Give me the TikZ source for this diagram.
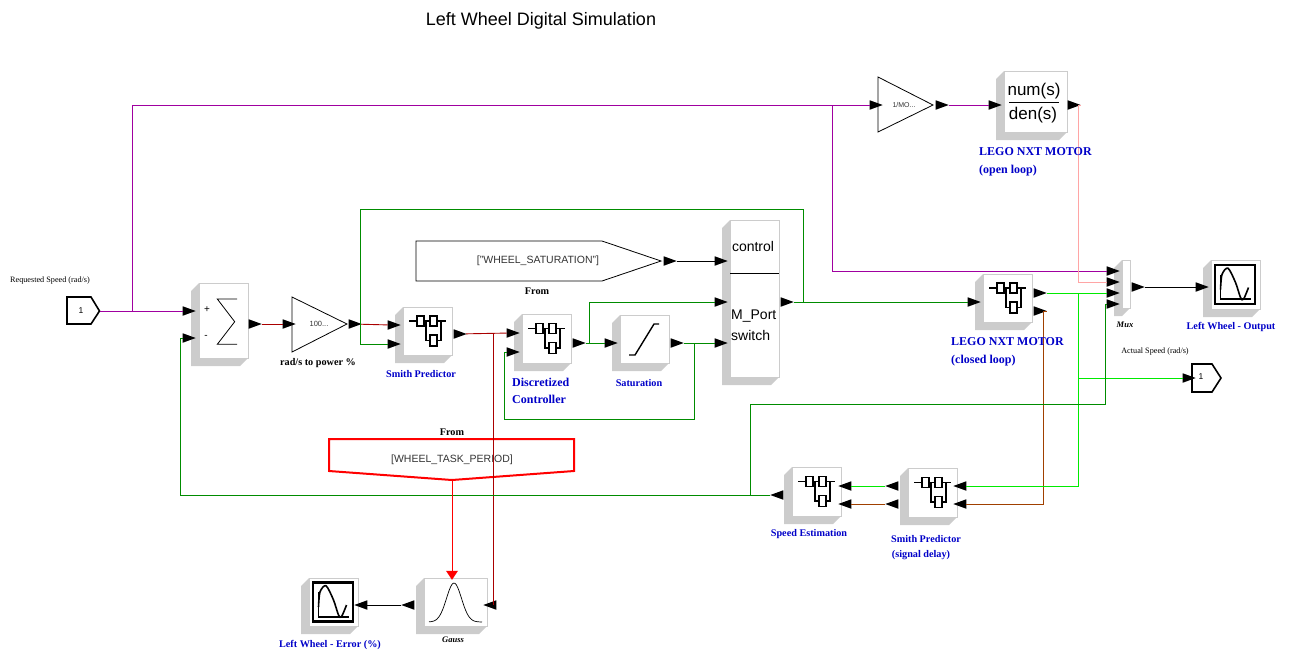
\documentclass[tikz,border=0pt]{standalone}
\usepackage{fontspec}
\setmainfont{Liberation Sans}
\newfontfamily\serifface{Liberation Serif}
\usetikzlibrary{shapes.geometric}

\definecolor{blockgray}{RGB}{204,204,204}
\definecolor{wirepurple}{RGB}{160,0,160}
\definecolor{wirered}{RGB}{170,0,0}
\definecolor{wiregreen}{RGB}{0,140,0}
\definecolor{wirelime}{RGB}{0,235,0}
\definecolor{wirepink}{RGB}{255,165,165}
\definecolor{wirebrown}{RGB}{160,64,0}
\definecolor{labelblue}{RGB}{0,0,200}

\tikzset{
    blockface/.style={draw=blockgray, fill=white, line width=0.8pt, inner sep=0pt, outer sep=0pt},
    portr/.style={isosceles triangle, isosceles triangle stretches, fill=black, inner sep=0pt, outer sep=0pt,
        minimum width=9.5pt, minimum height=13pt},
    portl/.style={portr, shape border rotate=180},
    portd/.style={portr, shape border rotate=-90, fill=red, minimum width=12pt, minimum height=9pt},
    wire/.style={line width=0.9pt},
    limewire/.style={line width=0.95pt, wirelime},
    bluelbl/.style={font=\serifface\bfseries\fontsize{10.2}{12}\selectfont, text=labelblue, inner sep=0pt},
    bluebig/.style={font=\serifface\bfseries\fontsize{12}{14}\selectfont, text=labelblue, inner sep=0pt, anchor=west},
    blacklbl/.style={font=\serifface\bfseries\fontsize{10.2}{12}\selectfont, inner sep=0pt},
    smalllbl/.style={font=\serifface\fontsize{8.2}{9}\selectfont, inner sep=0pt},
    italiclbl/.style={font=\serifface\bfseries\itshape\fontsize{8.5}{10}\selectfont, inner sep=0pt},
    blocktxt/.style={font=\fontsize{14}{16}\selectfont, inner sep=0pt},
    tagtxt/.style={font=\fontsize{10.5}{12}\selectfont, inner sep=0pt},
    superblk/.pic={
        \draw[line width=1.6pt] (-18.5,-10) -- (-10.5,-10) (-3.5,-10) -- (2.5,-10) (9.5,-10) -- (18.5,-10);
        \draw[line width=1.6pt] (-10.5,-15) rectangle (-3.5,-5);
        \draw[line width=1.6pt] (2.5,-15) rectangle (9.5,-5);
        \draw[line width=1.6pt] (2.5,4) rectangle (9.5,15);
        \draw[line width=1.6pt] (-1.5,-10) -- (-1.5,9.5) -- (2.5,9.5) (13.5,-10) -- (13.5,9.5) -- (9.5,9.5);
    },
    scopeicon/.pic={
        \draw[line width=2.2pt] (-20.5,-19.5) rectangle (19.5,19.5);
        \draw[line width=1.6pt] (-15,-10) -- (-15,14.7) -- (15,14.7);
        \draw[line width=1.6pt] plot[smooth] coordinates {(-15,5) (-13.5,-10) (-7.5,-16.3) (0,-2) (5,13) (8,14.7) (13,3)};
    },
}

% grey 3d side first, then the white face
\newcommand{\simblock}[5]{
    \fill[blockgray] (#2,#3) -- (#2-8,#3+8) -- (#2-8,#5+8) -- (#4-8,#5+8) -- (#4,#5) -- cycle;
    \node[blockface, minimum width=#4pt-#2pt, minimum height=#5pt-#3pt] (#1) at ({(#2+#4)/2},{(#3+#5)/2}) {};
}

\begin{document}
\begin{tikzpicture}[x=1pt,y=-1pt]
    \useasboundingbox (0,0) rectangle (1292,662);

    \node[font=\fontsize{18}{20}\selectfont, inner sep=0pt] (title) at (541,20.5) {Left Wheel Digital Simulation};

    % blocks
    \simblock{sumblk}{199}{283}{248}{358}
    \simblock{smith}{403}{307}{452}{355}
    \simblock{ctrl}{522}{314}{571}{363}
    \simblock{satur}{620}{315}{669}{363}
    \simblock{switchblk}{730}{220}{779}{377}
    \simblock{motoropen}{1004}{71}{1067}{132}
    \simblock{motorclosed}{983}{274}{1032}{322}
    \simblock{muxblk}{1122}{260}{1130}{308}
    \simblock{scopeout}{1211}{260}{1260}{309}
    \simblock{speedest}{792}{467}{841}{516}
    \simblock{smithdelay}{908}{468}{957}{517}
    \simblock{gaussblk}{424}{578}{487}{626}
    \simblock{scopeerr}{309}{578}{358}{626}

    \pic at (smith.center) {superblk};
    \pic at (ctrl.center) {superblk};
    \pic at (motorclosed.center) {superblk};
    \pic at (speedest.center) {superblk};
    \pic at (smithdelay.center) {superblk};
    \pic at (scopeout.center) {scopeicon};
    \pic at (scopeerr.center) {scopeicon};

    % sum block
    \node[font=\fontsize{10}{10}\selectfont, inner sep=0pt] (sumplus) at (207,310) {+};
    \node[font=\fontsize{10}{10}\selectfont, inner sep=0pt] (summinus) at (206,337) {-};
    \draw[line width=0.8pt] (237,299) -- (217.3,299) -- (234.7,321.7) -- (217.3,344.3) -- (237,344.3);

    % saturation ramp
    \draw[line width=1.4pt] (629,355) -- (635,355) -- (654,324) -- (659,324);

    % switch text
    \draw[line width=0.8pt] (730,273) -- (779,273);
    \node[blocktxt] (ctrltxt) at (753,246) {control};
    \node[blocktxt, anchor=west] (porttxt) at (731,316) {M\_Port};
    \node[blocktxt, anchor=west] (switchtxt) at (731,335) {switch};

    % transfer function
    \node[font=\fontsize{17}{19}\selectfont, inner sep=0pt] (numtxt) at (1034,91) {num(s)};
    \node[font=\fontsize{17}{19}\selectfont, inner sep=0pt] (dentxt) at (1033,115) {den(s)};
    \draw[line width=0.9pt] (1009,102) -- (1059,102);

    % gauss curve
    \draw[line width=0.7pt] plot[smooth, domain=429:482, samples=40] (\x,{622-39*exp(-((\x-454)/7.5)^2/2)});

    % io ports and gains
    \draw[line width=1.6pt] (67,297) -- (91,297) -- (99.5,311) -- (91,324) -- (67,324) -- cycle;
    \coordinate (inport) at (100,311);
    \node[font=\fontsize{8.5}{9}\selectfont, inner sep=0pt] (intxt) at (81,311) {1};
    \draw[line width=1.6pt] (1192,364) -- (1212,364) -- (1221,378) -- (1212,392) -- (1192,392) -- cycle;
    \node[font=\fontsize{8.5}{9}\selectfont, inner sep=0pt] (outtxt) at (1201,377) {1};

    \draw[line width=0.8pt] (292,297) -- (347,324) -- (292,352) -- cycle;
    \node[font=\fontsize{7.5}{9}\selectfont, text=black!80, inner sep=0pt] (gaintxt) at (319,324) {100...};
    \draw[line width=0.8pt] (878,77) -- (933,105) -- (878,132) -- cycle;
    \node[font=\fontsize{7}{9}\selectfont, text=black!80, inner sep=0pt] (invtxt) at (904,105) {1/MO...};

    % from tags
    \draw[line width=0.8pt] (416,241) -- (602,241) -- (661,261) -- (602,281) -- (416,281) -- cycle;
    \node[tagtxt, text=black!80] (sattag) at (538,260.5) {["WHEEL\_SATURATION"]};
    \draw[red, line width=2pt] (329,439) -- (574,439) -- (574,471) -- (452,480) -- (329,471) -- cycle;
    \node[tagtxt, text=black!80] (periodtag) at (452,460) {[WHEEL\_TASK\_PERIOD]};
    \coordinate (periodout) at (452,480);

    % ports pointing right
    \foreach \pname/\px/\py in {sumin1/186/311, sumin2/186/338, sumout/252/324, gainin/286/324, gainout/352/324,
        smithin1/391/325, smithin2/391/344, smithout/457/334,
        ctrlin1/510/333, ctrlin2/510/352, ctrlout/576/343, satin/608/343, satout/674/343,
        satfrom/667/261, swin1/718/261, swin2/718/302, swin3/718/343, swout/784/302,
        invin/873/105, invout/939/105, openin/992/105, openout/1071/105,
        closedin/971/302, closedout1/1037/293, closedout2/1037/311,
        muxin1/1110/271, muxin2/1110/282, muxin3/1110/293, muxin4/1110/304, muxout/1135/287,
        scopein/1199/287, outportin/1186/378}
        \node[portr] (\pname) at (\px,\py) {};

    % ports pointing left
    \foreach \pname/\px/\py in {speedin/780/495, speedr1/848/486, speedr2/848/504,
        delayl1/895/486, delayl2/895/504, delayr1/963/486, delayr2/963/504,
        gaussr/493/605, gaussl/411/605, errin/364/605}
        \node[portl] (\pname) at (\px,\py) {};

    \node[portd] (gausstop) at (452,574) {};

    % branch points
    \coordinate (purplebr) at (132,311);
    \coordinate (topbr) at (832,105);
    \coordinate (smithred) at (493,334);
    \coordinate (ctrlbr) at (589,343);
    \coordinate (satbr) at (694,343);
    \coordinate (swbr) at (803,302);
    \coordinate (greentop) at (360,209);
    \coordinate (greenbr) at (360,344);
    \coordinate (fbbr) at (750,495);
    \coordinate (limebr) at (1078,378);

    % wires
    \draw[wire, wirepurple] (inport) -- (sumin1);
    \draw[wire, wirepurple] (purplebr) |- (invin);
    \draw[wire, wirepurple] (invout) -- (openin);
    \draw[wire, wirepurple] (topbr) |- (muxin1);
    \draw[wire, wirered] (sumout) -- (gainin);
    \draw[wire, wirered] (gainout) -- (smithin1);
    \draw[wire, wiregreen] (swbr) |- (greentop) -- (greenbr) -- (smithin2);
    \draw[wire, wirered] (smithout) -- (ctrlin1);
    \draw[wire, wirered] (smithred) |- (gaussr);
    \draw[wire, wiregreen] (ctrlout) -- (satin);
    \draw[wire, wiregreen] (ctrlbr) |- (swin2);
    \draw[wire, wiregreen] (satout) -- (swin3);
    \draw[wire, wiregreen] (satbr) |- (504,419) -- (504,352) -- (ctrlin2);
    \draw[wire] (satfrom) -- (swin1);
    \draw[wire, wiregreen] (swout) -- (closedin);
    \draw[limewire] (closedout1) -- (muxin3);
    \draw[wire, wirebrown] (closedout2) -- ++(6,0) |- (delayr2);
    \draw[wire, wirepink] (openout) -- ++(7,0) |- (muxin2);
    \draw[limewire] (limebr |- closedout1) |- (delayr1);
    \draw[limewire] (limebr) -- (outportin);
    \draw[wire] (muxout) -- (scopein);
    \draw[wire, wiregreen] (speedin) -| (180,338) -- (sumin2);
    \draw[wire, wiregreen] (fbbr) |- (1105,404) -- (1105,304) -- (muxin4);
    \draw[limewire] (speedr1) -- (delayl1);
    \draw[wire, wirebrown] (speedr2) -- (delayl2);
    \draw[wire, red] (periodout) -- (gausstop);
    \draw[wire] (gaussl) -- (errin);

    % labels
    \node[smalllbl] (reqlbl) at (50,280.5) {Requested Speed (rad/s)};
    \node[blacklbl] (gainlbl) at (318,363.5) {rad/s to power \%};
    \node[bluelbl] (smithlbl) at (421,374) {Smith Predictor};
    \node[bluebig] (ctrllbl1) at (512,382) {Discretized};
    \node[bluebig] (ctrllbl2) at (512,399.5) {Controller};
    \node[bluelbl] (satlbl) at (639,383) {Saturation};
    \node[blacklbl] (from1) at (537,291) {From};
    \node[blacklbl] (from2) at (452,432.5) {From};
    \node[bluebig] (openlbl1) at (979,152) {LEGO NXT MOTOR};
    \node[bluebig] (openlbl2) at (979,171) {(open loop)};
    \node[bluebig] (closedlbl1) at (951,342) {LEGO NXT MOTOR};
    \node[bluebig] (closedlbl2) at (951,361) {(closed loop)};
    \node[italiclbl] (muxlbl) at (1125,325) {Mux};
    \node[bluelbl] (outlbl) at (1231,326.5) {Left Wheel - Output};
    \node[smalllbl] (actlbl) at (1155,351.5) {Actual Speed (rad/s)};
    \node[bluelbl] (estlbl) at (809,534.5) {Speed Estimation};
    \node[bluelbl] (delaylbl1) at (926,538.5) {Smith Predictor};
    \node[bluelbl] (delaylbl2) at (921,555.5) {(signal delay)};
    \node[italiclbl] (gausslbl) at (453,640) {Gauss};
    \node[bluelbl] (errlbl) at (330,644.5) {Left Wheel - Error (\%)};
\end{tikzpicture}
\end{document}
